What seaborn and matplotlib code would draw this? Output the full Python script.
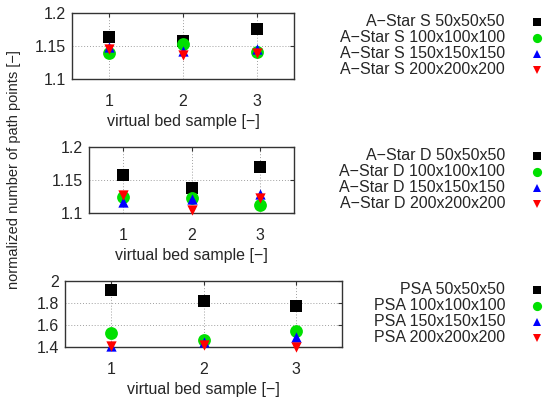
import numpy as np
import pandas as pd
import seaborn as sns
import matplotlib.pyplot as plt
from matplotlib.ticker import FuncFormatter

samples = [1, 2, 3]
sizes = ["50x50x50", "100x100x100", "150x150x150", "200x200x200"]

# A-Star S
astar_s_50 = [1.164, 1.158, 1.175]
astar_s_100 = [1.140, 1.153, 1.141]
astar_s_150 = [1.148, 1.143, 1.146]
astar_s_200 = [1.146, 1.136, 1.139]

# A-Star D
astar_d_50 = [1.157, 1.138, 1.170]
astar_d_100 = [1.124, 1.123, 1.112]
astar_d_150 = [1.117, 1.121, 1.129]
astar_d_200 = [1.128, 1.105, 1.123]

# PSA
psa_50 = [1.92, 1.82, 1.77]
psa_100 = [1.53, 1.46, 1.55]
psa_150 = [1.41, 1.45, 1.49]
psa_200 = [1.41, 1.42, 1.40]

panels = [
    ("A\u2212Star S", [astar_s_50, astar_s_100, astar_s_150, astar_s_200], (1.1, 1.2), [1.1, 1.15, 1.2]),
    ("A\u2212Star D", [astar_d_50, astar_d_100, astar_d_150, astar_d_200], (1.1, 1.2), [1.1, 1.15, 1.2]),
    ("PSA", [psa_50, psa_100, psa_150, psa_200], (1.4, 2.0), [1.4, 1.6, 1.8, 2.0]),
]

markers = ["s", "o", "^", "v"]
colors = ["black", "#00e000", "#0000ff", "#ff0000"]
msizes = [75, 85, 55, 55]

sns.set_theme(style="white")
plt.rcParams["font.family"] = ["Liberation Sans", "DejaVu Sans"]
fs = 11.5

W, H = 550, 399
fig = plt.figure(figsize=(5.5, 3.99), dpi=100)

# axes boxes in pixels: left, top, right, bottom
boxes = [(72, 13, 294, 79), (89, 147, 294, 213), (65, 281, 342, 347)]

for (name, series, ylim, yticks), (l, t, r, b) in zip(panels, boxes):
    ax = fig.add_axes([l / W, 1 - b / H, (r - l) / W, (b - t) / H])
    for vals, m, c, s in zip(series, markers, colors, msizes):
        df = pd.DataFrame({"sample": samples, "value": vals})
        sns.scatterplot(data=df, x="sample", y="value", marker=m, color=c, s=s,
                        linewidth=0, ax=ax, clip_on=False, zorder=3, legend=False)
    ax.set_xlim(0.5, 3.5)
    ax.set_ylim(*ylim)
    ax.set_xticks(samples)
    ax.set_yticks(yticks)
    ax.yaxis.set_major_formatter(FuncFormatter(lambda v, p: f"{v:g}"))
    ax.grid(True, linestyle=(0, (1, 2)), color="#a0a0a0", linewidth=0.7)
    for sp in ax.spines.values():
        sp.set_color("#333333")
        sp.set_linewidth(1.0)
    ax.tick_params(direction="in", length=3, width=0.8, color="#333333",
                   top=True, right=True, labelsize=fs)
    ax.tick_params(axis="x", pad=11)
    ax.tick_params(axis="y", pad=4.5)
    ax.set_ylabel("")
    ax.set_xlabel("virtual bed sample [\u2212]", fontsize=fs, labelpad=3.5)

    # gnuplot-style key: right-aligned text, symbol on the right
    for i, (size, m, c, s) in enumerate(zip(sizes, markers, colors, msizes)):
        yk = 1 - (t + 9 + 16 * i) / H
        fig.text(505 / W, yk, f"{name} {size}", ha="right", va="center", fontsize=fs)
        ax.plot([537 / W], [yk], marker=m, color=c, markersize=np.sqrt(s) * 0.72,
                linestyle="none", markeredgewidth=0, transform=fig.transFigure, clip_on=False)

fig.text(14 / W, 1 - 170 / H, "normalized number of path points [\u2212]",
         rotation=90, ha="center", va="center", fontsize=10.5)

fig.savefig("out.png", dpi=100)
